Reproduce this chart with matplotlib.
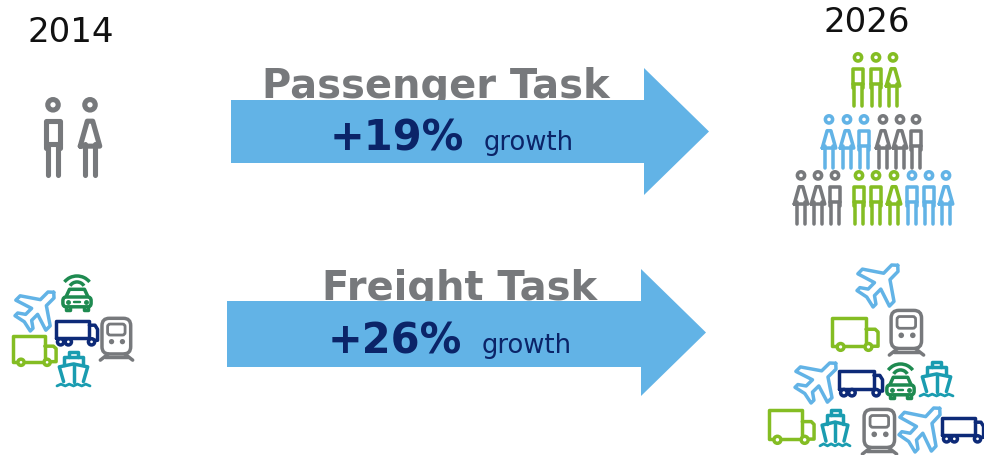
import numpy as np
import matplotlib
matplotlib.use("Agg")
import matplotlib.pyplot as plt
from matplotlib.patches import Circle, Polygon, FancyBboxPatch, Arc

plt.rcParams['font.family'] = ['DejaVu Sans']

years = ['2014', '2026']
tasks = ['Passenger Task', 'Freight Task']
growth = [19, 26]

LIME = '#84bd23'
SKY = '#62b3e6'
GREY = '#77797c'
NAVY = '#0d2a78'
FOREST = '#1e8a50'
TEAL = '#1a9cb0'

# people: (centre x, kind, colour), grouped in rows (top, height)
people_2014 = [(53, 'm', GREY), (90, 'w', GREY)]
people_rows = [
    (53, [(858, 'm', LIME), (876, 'm', LIME), (893, 'w', LIME)]),
    (115, [(829, 'w', SKY), (847, 'w', SKY), (864, 'm', SKY),
           (883, 'w', GREY), (900, 'w', GREY), (916, 'm', GREY)]),
    (171, [(801, 'w', GREY), (818, 'w', GREY), (835, 'm', GREY),
           (859, 'm', LIME), (876, 'm', LIME), (894, 'w', LIME),
           (912, 'm', SKY), (929, 'm', SKY), (946, 'w', SKY)]),
]

# vehicles: kind, bounding box x0, y0, x1, y1 in picture pixels
vehicles = [
    ('car', 62, 277, 92, 312), ('plane', 15, 293, 54, 332),
    ('truck', 55, 321, 98, 347), ('train', 100, 318, 133, 362),
    ('van', 12, 336, 57, 367), ('ship', 57, 352, 90, 388),
    ('plane', 857, 266, 898, 308), ('van', 831, 318, 879, 352),
    ('train', 889, 310, 924, 357), ('plane', 795, 364, 836, 404),
    ('truck', 838, 371, 883, 398), ('car', 886, 365, 915, 400),
    ('ship', 920, 362, 953, 398), ('van', 768, 410, 815, 445),
    ('ship', 820, 409, 850, 448), ('train', 862, 409, 897, 456),
    ('plane', 899, 409, 940, 453), ('truck', 941, 418, 984, 444),
]

fig = plt.figure(figsize=(9.84, 4.56), dpi=100)
ax = fig.add_axes([0, 0, 1, 1])
ax.set_xlim(0, 984)
ax.set_ylim(456, 0)
ax.axis('off')


def line(xs, ys, color, lw, z=3):
    ax.plot(xs, ys, color=color, lw=lw, solid_capstyle='round',
            solid_joinstyle='round', zorder=z)


def person(cx, top, h, kind, color):
    lw = h * 0.047
    s = h
    ax.add_patch(Circle((cx, top + 0.1 * s), 0.067 * s, fc='white', ec=color, lw=lw, zorder=3))
    if kind == 'm':
        hw = 0.09 * s
        line([cx - hw, cx - hw, cx + hw, cx + hw], [top + 0.66 * s, top + 0.31 * s, top + 0.31 * s, top + 0.66 * s], color, lw)
        line([cx - hw, cx + hw], [top + 0.6 * s, top + 0.6 * s], color, lw)
    else:
        hw = 0.125 * s
        line([cx - hw, cx - 0.035 * s, cx + 0.035 * s, cx + hw, cx - hw],
             [top + 0.63 * s, top + 0.31 * s, top + 0.31 * s, top + 0.63 * s, top + 0.63 * s], color, lw)
    leg = 0.068 * s
    line([cx - leg, cx - leg], [top + 0.6 * s, top + s], color, lw)
    line([cx + leg, cx + leg], [top + 0.6 * s, top + s], color, lw)


def van(b, color, lw):
    x0, y0, x1, y1 = b
    X = lambda u: x0 + u * (x1 - x0)
    Y = lambda v: y0 + v * (y1 - y0)
    line([X(.2), X(0.02), X(0.02), X(.73), X(.73)], [Y(.86), Y(.86), Y(.03), Y(.03), Y(.86)], color, lw)
    line([X(.73), X(.92), X(.98), X(.98), X(.88)], [Y(.36), Y(.36), Y(.44), Y(.86), Y(.86)], color, lw)
    line([X(.28), X(.7)], [Y(.86), Y(.86)], color, lw)
    for u in (.2, .78):
        ax.add_patch(Circle((X(u), Y(.88)), 0.1 * (y1 - y0), fc='white', ec=color, lw=lw, zorder=4))


def truck(b, color, lw):
    x0, y0, x1, y1 = b
    X = lambda u: x0 + u * (x1 - x0)
    Y = lambda v: y0 + v * (y1 - y0)
    line([X(.02), X(.02), X(.8), X(.8), X(.02)], [Y(.7), Y(.04), Y(.04), Y(.7), Y(.7)], color, lw)
    line([X(.8), X(.93), X(.99), X(.99), X(.8)], [Y(.2), Y(.2), Y(.36), Y(.78), Y(.78)], color, lw)
    for u in (.13, .31, .85):
        ax.add_patch(Circle((X(u), Y(.84)), 0.12 * (y1 - y0), fc='white', ec=color, lw=lw, zorder=4))


def train(b, color, lw):
    x0, y0, x1, y1 = b
    X = lambda u: x0 + u * (x1 - x0)
    Y = lambda v: y0 + v * (y1 - y0)
    w, h = x1 - x0, y1 - y0
    ax.add_patch(FancyBboxPatch((X(.06), Y(.03)), .87 * w, .81 * h, boxstyle='round,pad=0,rounding_size=%g' % (.22 * w),
                                fc='white', ec=color, lw=lw, zorder=3))
    ax.add_patch(FancyBboxPatch((X(.23), Y(.16)), .53 * w, .25 * h, boxstyle='round,pad=0,rounding_size=%g' % (.08 * w),
                                fc='white', ec=color, lw=lw * .8, zorder=4))
    for u in (.35, .68):
        ax.add_patch(Circle((X(u), Y(.56)), .08 * w, fc=color, ec=color, lw=0, zorder=4))
    line([X(.25), X(.01)], [Y(.84), Y(.98)], color, lw)
    line([X(.75), X(.99)], [Y(.84), Y(.98)], color, lw)
    line([X(.14), X(.86)], [Y(.92), Y(.92)], color, lw)


def plane(b, color, lw):
    # outline pointing along +x, then turned towards the upper right
    pts = np.array([[1.0, 0], [.9, .11], [.62, .11], [.32, .55], [.16, .55], [.3, .11], [.08, .11],
                    [-.04, .28], [-.14, .28], [-.08, 0], [-.14, -.28], [-.04, -.28], [.08, -.11], [.3, -.11],
                    [.16, -.55], [.32, -.55], [.62, -.11], [.9, -.11], [1.0, 0]])
    c, s = np.cos(-np.pi / 4), np.sin(-np.pi / 4)
    xr = pts[:, 0] * c - pts[:, 1] * s
    yr = pts[:, 0] * s + pts[:, 1] * c
    xr = (xr - xr.min()) / (xr.max() - xr.min())
    yr = (yr - yr.min()) / (yr.max() - yr.min())
    line(b[0] + xr * (b[2] - b[0]), b[1] + yr * (b[3] - b[1]), color, lw)


def ship(b, color, lw):
    x0, y0, x1, y1 = b
    X = lambda u: x0 + u * (x1 - x0)
    Y = lambda v: y0 + v * (y1 - y0)
    line([X(.35), X(.35), X(.65), X(.65)], [Y(.18), Y(.04), Y(.04), Y(.18)], color, lw)
    line([X(.22), X(.22), X(.78), X(.78)], [Y(.4), Y(.18), Y(.18), Y(.4)], color, lw)
    line([X(.2), X(.07), X(.5), X(.93), X(.8)], [Y(.85), Y(.44), Y(.36), Y(.44), Y(.85)], color, lw)
    line([X(.5), X(.5)], [Y(.36), Y(.85)], color, lw)
    us = np.array([0, .12, .25, .37, .5, .62, .75, .87, 1])
    vs = [.97, .92, .97, .92, .97, .92, .97, .92, .97]
    line(X(us), Y(np.array(vs)), color, lw * .8)


def car(b, color, lw):
    x0, y0, x1, y1 = b
    X = lambda u: x0 + u * (x1 - x0)
    Y = lambda v: y0 + v * (y1 - y0)
    w, h = x1 - x0, y1 - y0
    for ru, rv in ((.52, .42), (.28, .25)):
        ax.add_patch(Arc((X(.5), Y(.42)), 2 * ru * w, 2 * rv * h, theta1=215, theta2=325,
                         color=color, lw=lw, zorder=3))
    line([X(.12), X(.25), X(.75), X(.88)], [Y(.62), Y(.38), Y(.38), Y(.62)], color, lw)
    ax.add_patch(FancyBboxPatch((X(.03), Y(.6)), .94 * w, .28 * h, boxstyle='round,pad=0,rounding_size=%g' % (.12 * w),
                                fc='white', ec=color, lw=lw, zorder=3))
    line([X(.4), X(.6)], [Y(.74), Y(.74)], color, lw * .7)
    for u in (.2, .8):
        ax.plot([X(u)], [Y(.74)], 'o', color=color, ms=lw * 1.0, zorder=4)
        line([X(u - .06), X(u - .06), X(u + .06), X(u + .06)], [Y(.88), Y(.96), Y(.96), Y(.88)], color, lw)


# years on both sides
ax.text(71, 42, years[0], ha='center', va='baseline', fontsize=24.5, color='#111111')
ax.text(867, 32, years[1], ha='center', va='baseline', fontsize=24.5, color='#111111')

# people
for cx, kind, color in people_2014:
    person(cx, 98, 78, kind, color)
for top, row in people_rows:
    for cx, kind, color in row:
        person(cx, top, 54, kind, color)

# arrows, headings sit behind them so the arrow cuts the lower edge of the text
arrow_x0 = [231, 227]
arrow_neck = [644, 641]
arrow_tip = [709, 706]
shaft = [(101, 164), (302, 368)]
head = [(69, 196), (270, 397)]
title_x = [435.5, 460]
title_y = [98, 300]
pct_x = [330, 328]
pct_y = [151, 354]
grow_x = [484, 482]
grow_y = [150, 353]

for i in range(2):
    ax.text(title_x[i], title_y[i], tasks[i], ha='center', va='baseline', fontsize=28.8,
            fontweight='bold', color=GREY, zorder=1)
    mid = sum(head[i]) / 2
    ax.add_patch(Polygon([(arrow_x0[i], shaft[i][0]), (arrow_neck[i], shaft[i][0]), (arrow_neck[i], head[i][0]),
                          (arrow_tip[i], mid), (arrow_neck[i], head[i][1]), (arrow_neck[i], shaft[i][1]),
                          (arrow_x0[i], shaft[i][1])], closed=True, fc=SKY, ec='none', zorder=2))
    ax.text(pct_x[i], pct_y[i], '+%d%%' % growth[i], ha='left', va='baseline', fontsize=30,
            fontweight='bold', color='#0b2468', zorder=3)
    ax.text(grow_x[i], grow_y[i], 'growth', ha='left', va='baseline', fontsize=18.6,
            color='#0b2468', zorder=3)

# vehicles
draw = {'van': (van, LIME), 'truck': (truck, NAVY), 'train': (train, GREY),
        'plane': (plane, SKY), 'ship': (ship, TEAL), 'car': (car, FOREST)}
for kind, x0, y0, x1, y1 in vehicles:
    fn, color = draw[kind]
    fn((x0, y0, x1, y1), color, 2.5)

fig.savefig('out.png', dpi=100)
